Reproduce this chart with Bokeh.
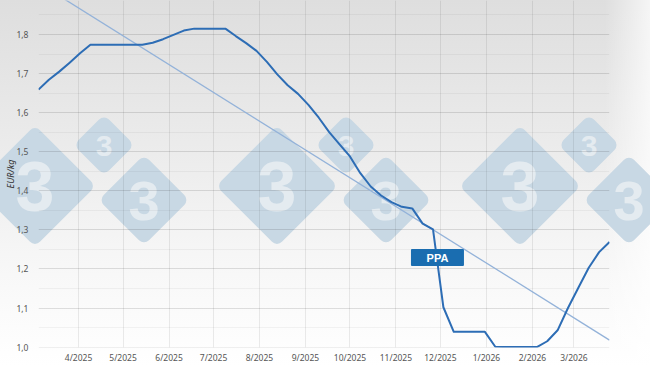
import datetime as dt
from urllib.parse import quote

from bokeh.plotting import figure
from bokeh.models import (Range1d, MonthsTicker, SingleIntervalTicker,
                          CustomJSTickFormatter, ColumnDataSource)
from bokeh.core.properties import value
from bokeh.embed import file_html
from bokeh.resources import INLINE

# ---------------- data ----------------
week_dates = [
    "2025-03-05", "2025-03-12", "2025-03-19", "2025-03-26",
    "2025-04-02", "2025-04-09", "2025-04-16", "2025-04-23", "2025-04-30",
    "2025-05-07", "2025-05-14", "2025-05-21", "2025-05-28",
    "2025-06-04", "2025-06-11", "2025-06-18", "2025-06-25",
    "2025-07-02", "2025-07-09", "2025-07-16", "2025-07-23", "2025-07-30",
    "2025-08-06", "2025-08-13", "2025-08-20", "2025-08-27",
    "2025-09-03", "2025-09-10", "2025-09-17", "2025-09-24",
    "2025-10-01", "2025-10-08", "2025-10-15", "2025-10-22", "2025-10-29",
    "2025-11-05", "2025-11-12", "2025-11-19", "2025-11-26",
    "2025-12-03", "2025-12-10", "2025-12-17", "2025-12-24", "2025-12-31",
    "2026-01-07", "2026-01-14", "2026-01-21", "2026-01-28",
    "2026-02-04", "2026-02-11", "2026-02-18", "2026-02-25",
    "2026-03-04", "2026-03-11", "2026-03-18", "2026-03-25",
]
price_eur_kg = [
    1.659, 1.684, 1.705, 1.728, 1.752, 1.774, 1.774, 1.774, 1.774, 1.774,
    1.774, 1.779, 1.788, 1.799, 1.810, 1.815, 1.815, 1.815, 1.815, 1.796,
    1.778, 1.758, 1.730, 1.698, 1.670, 1.648, 1.620, 1.587, 1.550, 1.519,
    1.488, 1.445, 1.411, 1.388, 1.371, 1.359, 1.355, 1.316, 1.301, 1.102,
    1.039, 1.039, 1.039, 1.039, 1.001, 1.000, 1.000, 1.000, 1.000, 1.015,
    1.043, 1.100, 1.152, 1.203, 1.243, 1.269,
]
trend_dates = ["2025-03-05", "2026-03-25"]
trend_values = [1.932, 1.018]

ppa_text = "PPA"
ppa_date = "2025-11-29"
ppa_value = 1.229

y_ticks_interval = 0.1
y_label = "EUR/kg"

def to_dt(s):
    return dt.datetime.strptime(s, "%Y-%m-%d")

dates = [to_dt(s) for s in week_dates]
src = ColumnDataSource(dict(x=dates, y=price_eur_kg))
trend_src = ColumnDataSource(dict(x=[to_dt(s) for s in trend_dates], y=trend_values))

# ---------------- figure ----------------
p = figure(width=650, height=366, x_axis_type="datetime",
           output_backend="svg", toolbar_location=None,
           x_range=Range1d(dates[0], dates[-1]),
           y_range=Range1d(0.999, 1.887),
           min_border_left=38, min_border_right=41,
           min_border_top=0, min_border_bottom=19)
p.outline_line_color = None
p.background_fill_color = None
p.border_fill_color = None

# background gradient + watermark as CSS decoration
groups = [0, 242, 485]
parts = []
for gx in groups:
    for cx, cy, side, fs in [(35, 186, 86, 70), (104, 145, 43, 30), (144, 200, 64, 56)]:
        x = cx + gx
        parts.append(
            f'<rect x="{x - side/2}" y="{cy - side/2}" width="{side}" height="{side}" '
            f'rx="7" ry="7" fill="#c8d8e4" transform="rotate(45 {x} {cy})"/>'
            f'<text x="{x}" y="{cy + fs*0.36}" font-family="Liberation Sans, Arial" '
            f'font-weight="bold" font-size="{fs}" text-anchor="middle" fill="#e4ebf0">3</text>')
svg = ('<svg xmlns="http://www.w3.org/2000/svg" width="650" height="366" '
       'viewBox="0 0 650 366">' + "".join(parts) + '</svg>')
p.styles = {
    "background-image": (f'url("data:image/svg+xml,{quote(svg)}"), '
                         'linear-gradient(to right, rgba(255,255,255,0) 93%, rgba(255,255,255,0.7) 100%), '
                         'linear-gradient(to bottom, #dedede 0%, #ededed 45%, #f8f8f8 75%, #ffffff 100%)'),
    "background-repeat": "no-repeat",
}

# ---------------- axes & grid ----------------
xt = MonthsTicker(months=list(range(12)))
p.xaxis.ticker = xt
p.xgrid.ticker = xt
p.xaxis.formatter = CustomJSTickFormatter(
    code="const d = new Date(tick); return (d.getUTCMonth()+1) + '/' + d.getUTCFullYear();")
yt = SingleIntervalTicker(interval=y_ticks_interval, num_minor_ticks=2)
p.yaxis.ticker = yt
p.ygrid.ticker = yt
p.yaxis.formatter = CustomJSTickFormatter(code="return tick.toFixed(1).replace('.', ',');")

for ax in (p.xaxis[0], p.yaxis[0]):
    ax.axis_line_color = None
    ax.major_tick_line_color = None
    ax.minor_tick_line_color = None
    ax.major_tick_out = 0
    ax.major_tick_in = 0
    ax.minor_tick_out = 0
    ax.minor_tick_in = 0
    ax.major_label_text_font = "Noto Sans"
    ax.major_label_text_font_size = "8.5px"
    ax.major_label_text_color = "#555555"
p.xaxis.major_label_standoff = 4
p.yaxis.major_label_standoff = 10
p.yaxis.axis_label = y_label
p.yaxis.axis_label_standoff = -4
p.yaxis.axis_label_text_font = "Noto Sans"
p.yaxis.axis_label_text_font_size = "9px"
p.yaxis.axis_label_text_font_style = "italic"
p.yaxis.axis_label_text_color = "#333333"

p.xgrid.grid_line_color = "#000000"
p.xgrid.grid_line_alpha = 0.08
p.ygrid.grid_line_color = "#000000"
p.ygrid.grid_line_alpha = 0.08
p.ygrid.minor_grid_line_color = "#000000"
p.ygrid.minor_grid_line_alpha = 0.045

# ---------------- series ----------------
p.line("x", "y", source=trend_src, line_color="#93b2d9", line_width=1.3)
p.line("x", "y", source=src, line_color="#2d6db5", line_width=2, line_join="round")

# PPA tag
px = [to_dt(ppa_date)]
p.rect(x=px, y=[ppa_value], width=51, height=15, width_units="screen", height_units="screen",
       fill_color="#1a6db0", line_color="#1a6db0", line_width=2, line_join="round")
p.text(x=px, y=[ppa_value], text=[ppa_text], text_color="white",
       text_font=value("Liberation Sans"), text_font_style="bold", text_font_size="11px",
       text_align="center", text_baseline="middle")

open("out.html", "w").write(file_html(p, INLINE, title="EUR/kg"))
